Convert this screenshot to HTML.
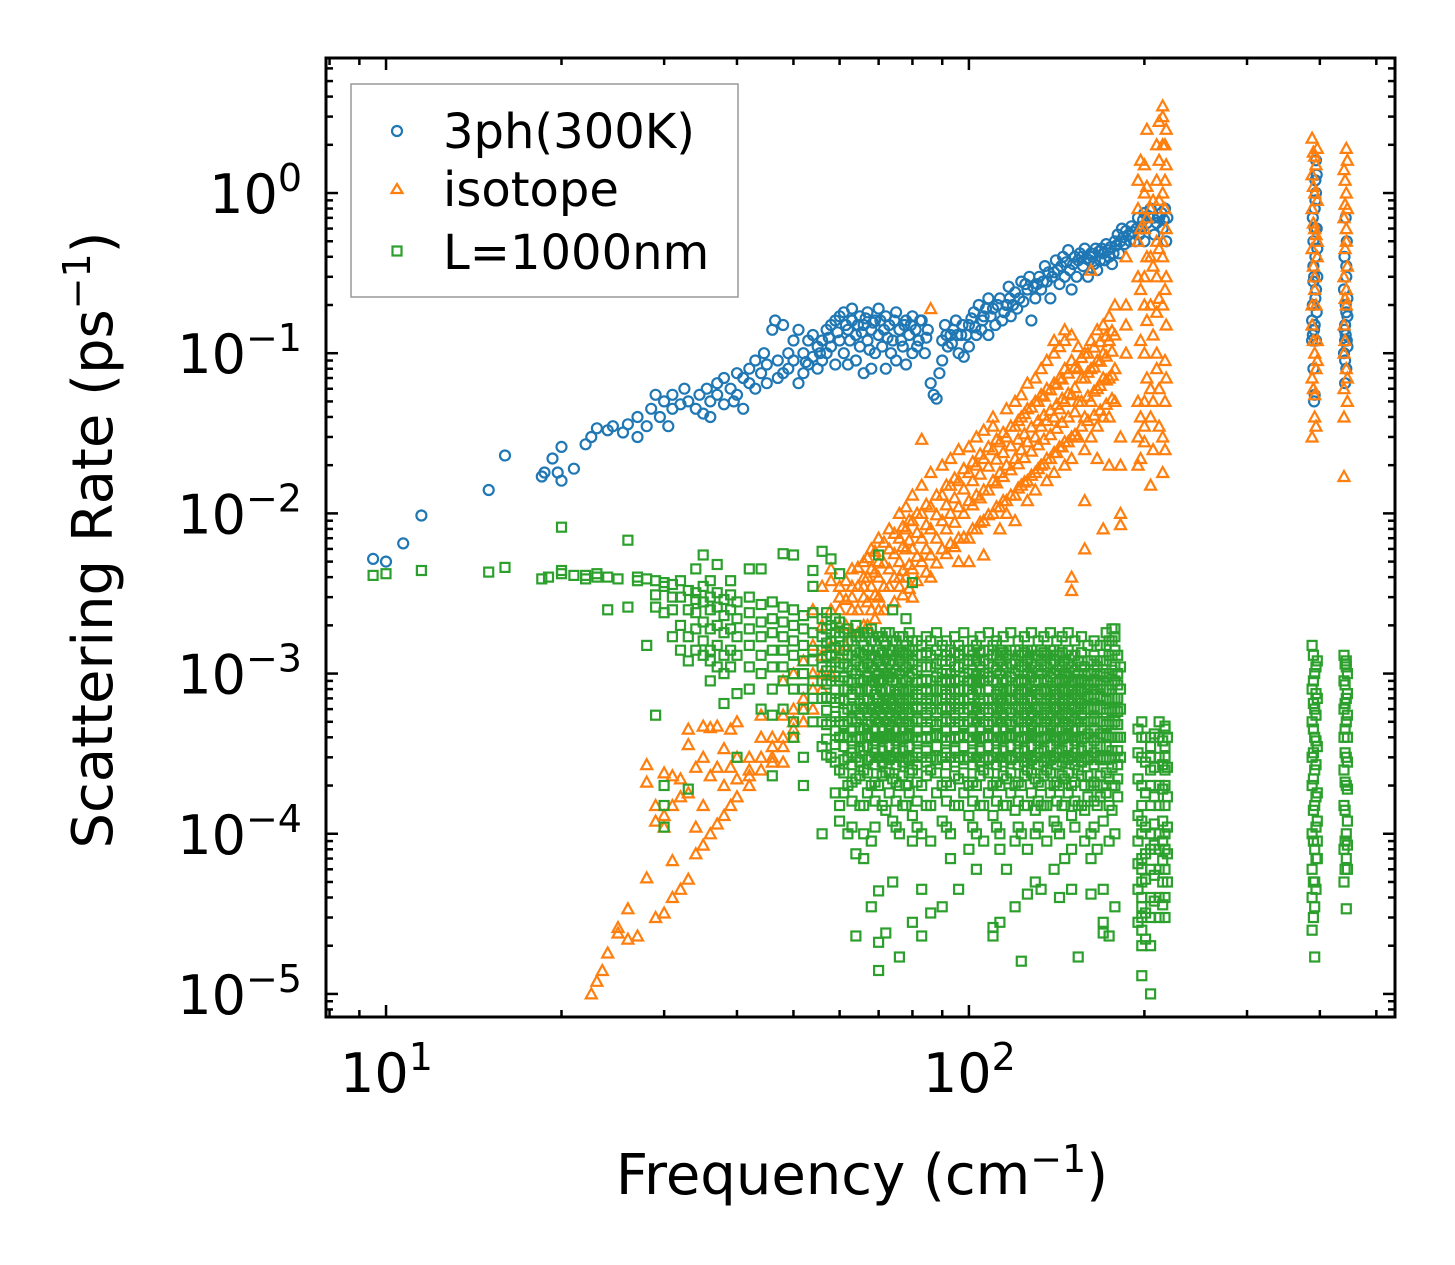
<!DOCTYPE html>
<html>
<head>
<meta charset="utf-8">
<style>
html,body{margin:0;padding:0;background:#fff;}
svg{display:block;font-family:"DejaVu Sans","Liberation Sans",sans-serif;}
</style>
</head>
<body>
<svg id="chart" width="1455" height="1265" viewBox="0 0 1455 1265" xmlns="http://www.w3.org/2000/svg">
<rect x="0" y="0" width="1455" height="1265" fill="#fff"/>
<g id="marks"></g>
<g id="axes"></g>
<g id="legend">
  <rect x="351" y="84" width="387" height="213" fill="#fff" stroke="#999" stroke-width="1.5"/>
  <circle cx="397" cy="131" r="5" fill="none" stroke="#1f77b4" stroke-width="2.2"/>
  <text x="443" y="148" font-size="48" fill="#000">3ph(300K)</text>
  <path d="M397,184 L402.5,193 L391.5,193 Z" fill="none" stroke="#ff7f0e" stroke-width="2.2"/>
  <text x="443" y="206" font-size="48" fill="#000">isotope</text>
  <rect x="392.5" y="246.5" width="9" height="9" fill="none" stroke="#2ca02c" stroke-width="2.2"/>
  <text x="443" y="269" font-size="48" fill="#000">L=1000nm</text>
</g>
<text x="862" y="1194" font-size="56" text-anchor="middle" fill="#000">Frequency (cm<tspan dy="-22" font-size="38">−1</tspan><tspan dy="22">)</tspan></text>
<text transform="translate(112,540) rotate(-90)" font-size="56" text-anchor="middle" fill="#000">Scattering Rate (ps<tspan dy="-22" font-size="38">−1</tspan><tspan dy="22">)</tspan></text>
</svg>
<script>
// ---- data (frequency in cm^-1, rate in ps^-1) ----
const xTickExps = [1, 2];
const yTickExps = [0, -1, -2, -3, -4, -5];

const ph3Points = [[9.5,.0052],[10,.005],[10.7,.0065],[11.5,.0097],[15,.014],[16,.023],[18.5,.017],[18.7,.018],[19.3,.022],[19.7,.018],[20,.016],[20,.026],[21,.019],[22,.027],[22.5,.03],[23,.034],[24,.033],[24.5,.035],[25.5,.032],[26,.036],[27,.04],[27,.03],[28,.035],[28.5,.045],[29,.055],[29.5,.04],[30,.05],[30.5,.035],[31,.045],[31,.055],[32,.048],[32.5,.06],[33,.05],[34,.045],[34.5,.055],[35,.042],[35.5,.06],[36,.05],[36,.04],[37,.065],[37,.055],[38,.07],[38,.048],[39,.06],[39.5,.05],[40,.075],[40,.055],[41,.07],[41,.045],[42,.08],[42,.065],[43,.09],[43,.06],[44,.075],[44.5,.1],[45,.065],[45,.085],[46,.14],[46.5,.16],[47,.09],[47,.07],[48,.15],[48,.075],[49,.1],[49,.08],[50,.12],[50,.09],[51,.065],[51,.14],[52,.1],[52,.075],[53,.12],[53,.085],[54,.13],[54,.095],[55,.11],[55,.08],[56,.12],[56,.09],[57,.14],[57,.1],[58,.15],[58,.11],[59,.16],[59,.085],[60,.17],[60,.12],[61,.18],[61,.1],[62,.14],[62,.085],[63,.19],[63,.16],[64,.13],[64,.09],[65,.17],[65,.11],[66,.15],[66,.075],[67,.18],[67,.12],[68,.14],[68,.08],[69,.16],[69,.1],[70,.19],[70,.13],[71,.11],[72,.17],[72,.08],[73,.15],[74,.12],[75,.18],[75,.09],[76,.14],[77,.11],[78,.16],[78,.085],[79,.13],[80,.17],[80,.1],[81,.14],[82,.12],[83,.16],[84,.1],[85,.14],[86,.065],[87,.055],[88,.052],[89,.075],[90,.12],[90,.09],[91,.15],[92,.11],[93,.13],[94,.14],[95,.16],[96,.1],[97,.13],[98,.095],[100,.15],[100,.11],[102,.18],[103,.13],[104,.2],[105,.14],[106,.17],[108,.22],[108,.13],[110,.19],[111,.15],[113,.22],[114,.16],[116,.2],[117,.26],[118,.17],[120,.24],[121,.19],[123,.28],[124,.21],[126,.25],[127,.3],[128,.16],[130,.22],[132,.3],[133,.25],[135,.35],[136,.28],[138,.22],[140,.32],[141,.38],[143,.27],[145,.4],[146,.3],[148,.44],[149,.33],[150,.25],[152,.4],[153,.3],[155,.42],[157,.35],[158,.45],[160,.3],[161,.38],[163,.4],[165,.45],[166,.33],[168,.38],[170,.42],[172,.48],[174,.4],[176,.36],[178,.5],[180,.55],[181,.42],[183,.6],[185,.48],[188,.55],[190,.62],[193,.5],[195,.7],[198,.6],[200,.75],[200,.5],[202,.65],[205,.8],[208,.55],[212,.7],[215,.6],[217,.8],[218,.5],[219,.7],
[52.5,.088],[55.5,.1],[57.5,.125],[59.5,.135],[61.5,.15],[62.5,.12],[64.5,.15],[65.5,.135],[66.5,.165],[67.5,.105],[68.5,.155],[70.5,.16],[71.5,.14],[72.5,.125],[73.5,.1],[74.5,.16],[76.5,.12],[77.5,.15],[79.5,.15],[81.5,.11],[82.5,.16],[84.5,.125],[91.5,.13],[93.5,.115],[95.5,.13],[97.5,.15],[99,.13],[101,.165],[102.5,.145],[105.5,.16],[107,.19],[109,.17],[112,.2],[115,.18],[117.5,.22],[119,.2],[122,.22],[125,.27],[129,.26],[131,.27],[134,.28],[137,.32],[139,.3],[142,.33],[144,.35],[147,.37],[151,.36],[154,.38],[156,.4],[159,.39],[162,.42],[164,.36],[167,.43],[169,.45],[171,.38],[173,.44],[175,.46],[177,.42],[179,.47],[182,.5],[184,.53],[186,.58],[189,.5],[191,.57],[194,.6],[196,.55],[199,.68],[203,.72],[207,.7],[210,.65],[214,.75],[216,.68],
[388,.12],[389,.2],[390,.5],[391,.3],[392,.8],[393,1.2],[394,1.6],[392,.15],[393,.4],[394,.25],[395,.6],[391,.14],[393,.9],[390,.35],[389,.7],[395,.18],[396,.45],[394,1.0],[392,.055],[391,.05],[390,.08],[389,.13],[393,.22],[395,1.3],[388,.16],[390,.28],[392,.6],[394,.12],[396,.3],
[440,.1],[442,.15],[443,.2],[444,.3],[445,.12],[441,.4],[443,.7],[444,.08],[442,.09],[446,.17],[440,.25],[443,.13],[445,.5],[442,.065],[444,.35],[446,.11],[441,.14],[444,.18],[446,.22],[442,.12]];

const isoFreqs = [22.5,23,23.5,24,25,26,27,28,29,30,31,32,33,34,35,36,37,38,39,40,42,44,46,48,50,52,54,56,58,60,63,66,68,70,73,76,78,80,83,86,90,93,96,100,103,106,110,113,116,120,123,126,130,133,136,140,143,146,150,154,158,162,166,170,174,178,182,186,195,200,205,210,215,218,388,392,396,440,444,
61.5,64.5,67,69,71.5,74.5,77,79,81.5,84.5,88,91.5,94.5,98,101.5,104.5,108,111.5,114.5,118,121.5,124.5,128,131.5,134.5,138,141.5,144.5,148,152,156,160,164,168,172,176,197,202,207,212,217,390,394,442,446];
const isoRates = [[1e-5],[1.2e-5],[1.4e-5],[1.8e-5],[2.4e-5,2.6e-5],[3.4e-5,2.2e-5],[2.3e-5],[2.7e-4,2.1e-4,5.3e-5],[3e-5,1.2e-4,1.5e-4],[3.2e-5,1.3e-4,1.1e-4,2.4e-4],[4e-5,2.3e-4,1.5e-4,6.8e-5],[4.5e-5,1.7e-4,2.2e-4],[5.2e-5,1.8e-4,3.6e-4,4.5e-4],[7.5e-5,2.6e-4,1.1e-4],[8.5e-5,3e-4,4.7e-4,1.5e-4],[1e-4,4.6e-4,2.3e-4],[1.15e-4,2.6e-4,4.7e-4],[1.3e-4,3.4e-4,2e-4],[1.5e-4,2.6e-4,4.5e-4],[1.7e-4,5e-4,2.2e-4,3e-4],[2e-4,2.5e-4,3e-4,2.3e-4],[2.5e-4,3e-4,4e-4,5.5e-4],[3e-4,3.5e-4,4e-4,2.8e-4],[3.5e-4,4e-4,5.5e-4,2.8e-4,9e-4],[4e-4,5e-4,6e-4,1e-3,4.5e-4],[5e-4,7e-4,1.2e-3,6e-4],[6e-4,8e-4,1.5e-3,1e-3,2.5e-3],[8e-4,1e-3,2e-3,3.5e-3,1.3e-3],[1e-3,1.5e-3,2.5e-3,3.8e-3,4.5e-3],[1.3e-3,2e-3,3e-3,2.5e-3,3.5e-3],[1.8e-3,2.5e-3,3e-3,3.5e-3,4.5e-3],[2e-3,3e-3,4e-3,5e-3,3.5e-3],[2.5e-3,3.5e-3,4.5e-3,6e-3],[3e-3,4e-3,5e-3,7e-3,2.5e-3],[3.5e-3,4.5e-3,6e-3,8e-3],[4e-3,5e-3,7e-3,1e-2,3.5e-3],[4e-3,6e-3,8e-3,1.1e-2],[4.5e-3,6e-3,9e-3,1.3e-2,3e-3],[5e-3,7e-3,1e-2,1.5e-2,2.9e-2],[5.5e-3,8e-3,1.1e-2,1.8e-2,4e-3,0.19],[6e-3,9e-3,1.3e-2,2e-2],[6.5e-3,1e-2,1.5e-2,2.2e-2],[7e-3,1.1e-2,1.6e-2,2.5e-2,5e-3],[7e-3,1.2e-2,1.8e-2,2.6e-2,5e-3],[8e-3,1.3e-2,2e-2,3e-2],[9e-3,1.4e-2,2.2e-2,3.3e-2,5.5e-3],[1e-2,1.6e-2,2.5e-2,4e-2,3.5e-2],[1.1e-2,1.8e-2,2.8e-2,8e-3],[1.2e-2,2e-2,3e-2,4.5e-2,1e-2],[1.3e-2,2.2e-2,3.5e-2,5e-2,9e-3],[1.5e-2,2.5e-2,4e-2,5.5e-2],[1.6e-2,2.8e-2,4.5e-2,6.5e-2,1.2e-2],[1.8e-2,3e-2,5e-2,7e-2,1.4e-2],[2e-2,3.5e-2,5.5e-2,8e-2],[2.2e-2,3.8e-2,6e-2,9e-2,1.6e-2],[2.4e-2,4e-2,6.5e-2,1e-1,1.8e-2,1.2e-1],[2.6e-2,4.5e-2,7e-2,1.1e-1],[2.8e-2,5e-2,8e-2,1.2e-1,2e-2,1.4e-1],[3e-2,5.5e-2,9e-2,1.3e-1,4e-3,3.3e-3,2.2e-2],[3e-2,5e-2,8e-2,1.1e-1],[2.5e-2,4e-2,7e-2,1e-1,6e-3,1.2e-2],[3e-2,5e-2,8e-2,1.2e-1,0.33],[3.5e-2,6e-2,9e-2,1.4e-1,2.2e-2],[4e-2,7e-2,1e-1,1.5e-1,8e-3],[4e-2,7e-2,1.2e-1,1.7e-1,2e-2],[5e-2,8e-2,1.3e-1,2e-1],[2e-2,1e-2,8.5e-3,3e-2],[0.4,0.15,0.2,0.1],[0.5,0.3,0.8,1.2,0.05,0.03,0.02],[0.3,0.6,1,1.5,0.1,0.2,0.05,0.035,0.028],[0.4,0.8,0.2,0.06,0.04,0.015],[0.3,0.5,1.2,2,0.1,0.18,0.08],[0.5,1,2,3,3.5,0.2,0.4,0.03,0.018],[0.6,1.5,2.5,0.3,0.15,0.07],[0.03,0.07,0.2,0.45,0.8,1.3,2.2,0.15],[0.04,0.1,0.3,0.6,1,1.7,0.25,0.055],[0.09,0.4,0.9,1.9,0.12,0.5],[0.017,0.1,0.3,0.7,1.4,0.15,0.06,0.04],[0.2,0.5,1,1.9,0.25,0.6,0.08],
[.0015,.002,.0029,.0038],[.0018,.0025,.0035,.0046],[.002,.0028,.004,.0053],[.0022,.0031,.0043,.0058],[.0025,.0035,.0049,.0066],[.0028,.004,.0056,.0075],[.0031,.0044,.0062,.0083],[.0034,.0048,.0068,.0091],[.0038,.0054,.0076,.01],[.0043,.006,.0085,.0114],[.0049,.007,.0098,.013],[.0056,.008,.0113,.015],[.0062,.0088,.0125,.0166],[.0071,.01,.0142,.019],[.008,.0113,.016,.021],[.0088,.0125,.0176,.0235],[.0098,.014,.0197,.026],[.011,.0155,.0218,.029],[.012,.017,.024,.032],[.013,.0187,.0264,.035],[.0144,.0204,.029,.038],[.0157,.0223,.0314,.042],[.0173,.0245,.0346,.046],[.019,.0268,.0378,.05],[.0204,.029,.041,.054],[.022,.031,.044,.059],[.024,.034,.048,.064],[.026,.037,.052,.069],[.028,.04,.056,.075],[.031,.043,.061,.082],[.035,.05,.07,.094],[.038,.054,.076,.1],[.041,.058,.082,.109],[.044,.063,.089,.118],[.048,.068,.096,.128],[.052,.073,.103,.138],
[0.04,0.12,0.25,0.6,1.6,0.022],[0.07,0.16,0.4,0.7,1.1,2.5],[0.05,0.13,0.35,0.9,0.025],[0.06,0.22,0.45,0.9,1.6,2.8,0.035],[0.09,0.25,0.8,1.2,2,0.05,0.025],[0.06,0.12,0.35,0.65,1.1,1.8],[0.035,0.08,0.2,0.55,1.5],[0.12,0.22,0.45,0.85,1.2],[0.07,0.35,0.8,1.6,0.05]];

const bndFreqs = [9.5,10,11.5,15,16,18.5,19,20,21,22,23,24,25,26,27,28,29,30,31,32,33,34,35,36,37,38,39,40,42,44,46,48,50,52,54,56,58,60,62,64,66,68,70,72,74,76,78,80,83,86,90,93,96,100,103,106,110,113,116,120,123,126,130,133,136,140,143,146,150,154,158,162,166,170,174,178,182,198,205,212,217,388,392,396,440,444,
57,59,61,63,65,67,69,71,73,75,77,79,81.5,84.5,88,91.5,94.5,98,101.5,104.5,108,111.5,114.5,118,121.5,124.5,128,131.5,134.5,138,141.5,144.5,148,152,156,160,164,168,172,176,180,195,201,208,215,219,390,394,442,446];
const bndRates = [[.0041],[.0042],[.0044],[.0043],[.0046],[.0039],[.0040],[.0042,.0044,.0082],[.0041],[.0039,.0041],[.0040,.0042],[.0040,.0025],[.0039],[.0068,.0026],[.0040,.0038],[.0039,.0015],[.0038,.0031,.0026,.00055],[.0035,.0024,.0037,.00015,.0002,.00011],[.0036,.0017,.0030,.0025],[.0030,.0038,.0020,.0014],[.0033,.0025,.0017,.0012,.00019],[.0032,.0029,.0024,.0019,.0014,.0045],[.0035,.0028,.0021,.0016,.0013,.0055],[.0030,.0025,.0019,.0014,.0012,.0009,.0038],[.0032,.0026,.0020,.0015,.0011,.0048],[.0029,.0023,.0018,.0013,.001,.00065],[.0031,.0025,.0019,.0014,.0011,.0038],[.0028,.0022,.0017,.0013,.00075,.0003],[.0030,.0024,.0019,.0015,.0011,.0008,.0045],[.0027,.0021,.0017,.0013,.001,.0006,.0045],[.0028,.0022,.0018,.0014,.0011,.0008,.00055,.00023],[.0026,.0021,.0017,.0014,.0011,.0009,.0006,.0056],[.0025,.0020,.0016,.0013,.001,.0008,.0005,.0055,.0004],[.0023,.0019,.0015,.0012,.001,.0008,.0006,.0003,.0002],[.0024,.0018,.0014,.0012,.0009,.0007,.0005,.0035,.0044],[.0022,.0017,.0014,.0011,.0009,.0007,.0005,.00035,.0001,.0058],[.002,.0016,.0013,.0011,.0009,.0007,.0005,.0003,.0052],[.0021,.0017,.0014,.0011,.0009,.0007,.0005,.0004,.00025,.00015,.00012,.0042],[.0019,.0016,.0013,.0011,.0009,.0008,.0006,.0005,.0004,.0003,.0002,.0001],[.002,.0017,.0014,.0012,.001,.0008,.0006,.0005,.0004,.0003,.00022,.000075,.000023],[.0018,.0015,.0013,.0011,.0009,.0007,.0006,.00045,.00035,.00025,.00015,.00007,.0001],[.0019,.0016,.0013,.0011,.0009,.0008,.0006,.0005,.0004,.0003,.0002,.000035,.00009],[.0017,.0014,.0012,.001,.0009,.0007,.0006,.0005,.0004,.0003,.0002,.000021,.0055,.000014,.000044],[.0018,.0015,.0012,.001,.0008,.0007,.0006,.0005,.0004,.0003,.00024,.00014,.000024],[.0016,.0014,.0012,.001,.0009,.0007,.0006,.0005,.0004,.0003,.00022,.00012,.00005,.0025],[.0017,.0014,.0012,.001,.0008,.0007,.0006,.0005,.0004,.0003,.0002,.0001,.000017],[.0015,.0013,.0011,.0009,.0008,.0007,.0006,.0005,.0004,.0003,.0002,.00015,.0022],[.0016,.0014,.0012,.001,.0008,.0007,.0006,.0005,.0004,.0003,.00025,.00013,.00009,.000028,.0037],[.0015,.0013,.0011,.0009,.0008,.0007,.0006,.0005,.0004,.0003,.0002,.0001,.000045,.000023],[.0016,.0013,.0011,.0009,.0008,.0007,.0006,.0005,.0004,.0003,.00025,.00015,.00009,.000032],[.0015,.0012,.001,.0009,.0008,.0007,.0006,.0005,.0004,.0003,.0002,.00012,.000035],[.0014,.0012,.001,.0009,.0008,.0007,.0006,.0005,.0004,.0003,.0002,.0001,.00007],[.0015,.0013,.0011,.0009,.0008,.0007,.0006,.0005,.0004,.0003,.00022,.00015,.000045],[.0014,.0012,.001,.0009,.0008,.0007,.0006,.0005,.0004,.0003,.0002,.00013,.00008],[.0015,.0012,.001,.0009,.0008,.0006,.0005,.0004,.0003,.0002,.0001,.00006],[.0014,.0012,.001,.0009,.0007,.0006,.0005,.0004,.0003,.00025,.00015,.00009],[.0015,.0013,.0011,.0009,.0007,.0006,.0005,.0004,.0003,.0002,.00013,.000026,.000023],[.0014,.0012,.001,.0008,.0007,.0006,.0005,.0004,.0003,.0002,.0001,.00008,.000028],[.0013,.0011,.0009,.0008,.0007,.0006,.0005,.0004,.0003,.00022,.00015,.00006],[.0014,.0012,.001,.0008,.0007,.0006,.0005,.0004,.0003,.0002,.00014,.00009,.000035],[.0013,.0011,.0009,.0008,.0007,.0006,.0005,.0004,.0003,.0002,.0001,.000016],[.0014,.0012,.001,.0008,.0007,.0006,.0005,.0004,.0003,.00025,.00015,.00008,.000042],[.0013,.0011,.0009,.0008,.0006,.0005,.0004,.0003,.00022,.00014,.0001,.00005],[.0014,.0012,.001,.0008,.0007,.0006,.0005,.0004,.0003,.0002,.00015,.000045],[.0013,.0011,.0009,.0008,.0007,.0006,.0005,.0004,.0003,.00025,.00015,.00009],[.0014,.0012,.001,.0008,.0007,.0006,.0005,.0004,.0003,.0002,.00012,.00006],[.0013,.0011,.0009,.0008,.0007,.0006,.0005,.0004,.0003,.0002,.0001,.00004],[.0012,.001,.0009,.0008,.0007,.0006,.0005,.0004,.0003,.00022,.00015,.00007],[.0013,.0011,.0009,.0008,.0007,.0006,.0005,.0004,.0003,.0002,.00013,.00008,.000045],[.0012,.001,.0009,.0008,.0007,.0006,.0005,.0004,.0003,.00025,.00015,.000017],[.0011,.0009,.0008,.0007,.0006,.0005,.0004,.0003,.0002,.00014,.00009],[.0012,.001,.0009,.0008,.0007,.0006,.0005,.0004,.0003,.0002,.0001,.00007,.000042],[.0011,.0009,.0008,.0007,.0006,.0005,.0004,.0003,.0002,.00015,.00008],[.0012,.001,.0009,.0008,.0007,.0006,.0005,.0004,.0003,.0002,.00012,.000045,.000028,.000024],[.0016,.0013,.001,.0008,.0007,.0006,.0005,.0004,.0003,.00022,.00015,.00009,.000023],[.0019,.0017,.0014,.0011,.0009,.0007,.0006,.0005,.0004,.0003,.0002,.0001,.000035],[.0011,.0008,.0006,.0004,.0003],[.0005,.0004,.0003,.0002,.00015,.0001,.00007,.00005,.000035,.000025,.000013,.00012,.00006,.00004,.00003,.00002],[.0004,.0003,.0002,.00015,.0001,.00008,.00006,.00004,.00003,.00002,.00001,.00025,.00035],[.0005,.0004,.0003,.0002,.00015,.0001,.00008,.00006,.00004,.00003],[.00045,.00035,.0003,.00025,.0002,.00015,.0001,.00008,.00006,.00004,.00003,.00047],[.0015,.0008,.0005,.0003,.0002,.0001,.00006,.00004,.000025],[.001,.0006,.0004,.00025,.00015,.00008,.00005,.000035,.000017],[.0012,.0007,.00035,.00018,.00012,.00009,.00007],[.0013,.0009,.0006,.0004,.00025,.00015,.00008,.00005],[.0011,.0007,.0005,.0003,.0002,.0001,.00007,.000034,.0012],
[.0024,.0019,.00155,.00128,.00104,.00086,.00071,.00059,.00048,.00039,.00031],
[.0022,.0018,.00145,.00118,.00096,.00079,.00066,.00054,.00044,.00036,.00028,.00018],
[.0018,.0014,.00115,.00095,.0008,.00068,.00057,.00048,.00041,.00035,.00029,.00024,.00018],
[.0016,.0013,.00105,.00088,.00074,.00062,.00052,.00044,.00038,.00032,.00027,.00021,.00016,.00011],
[.0017,.00135,.0011,.00092,.00077,.00065,.00055,.00046,.00039,.00033,.00028,.00023,.00015],
[.0018,.0014,.00115,.00095,.0008,.00068,.00057,.00048,.00041,.00035,.00029,.00024,.00018],
[.0016,.0013,.00105,.00088,.00074,.00062,.00052,.00044,.00038,.00032,.00027,.00021,.00016,.00011],
[.0017,.00135,.0011,.00092,.00077,.00065,.00055,.00046,.00039,.00033,.00028,.00023,.00015],
[.0018,.0014,.00115,.00095,.0008,.00068,.00057,.00048,.00041,.00035,.00029,.00024,.00018],
[.0016,.0013,.00105,.00088,.00074,.00062,.00052,.00044,.00038,.00032,.00027,.00021,.00016,.00011],
[.0017,.00135,.0011,.00092,.00077,.00065,.00055,.00046,.00039,.00033,.00028,.00023,.00015],
[.0018,.0014,.00115,.00095,.0008,.00068,.00057,.00048,.00041,.00035,.00029,.00024,.00018],
[.0016,.0013,.00105,.00088,.00074,.00062,.00052,.00044,.00038,.00032,.00027,.00021,.00016,.00011],
[.0017,.00135,.0011,.00092,.00077,.00065,.00055,.00046,.00039,.00033,.00028,.00023,.00015],
[.0018,.0014,.00115,.00095,.0008,.00068,.00057,.00048,.00041,.00035,.00029,.00024,.00018],
[.0016,.0013,.00105,.00088,.00074,.00062,.00052,.00044,.00038,.00032,.00027,.00021,.00016,.00011],
[.0017,.00135,.0011,.00092,.00077,.00065,.00055,.00046,.00039,.00033,.00028,.00023,.00015],
[.0018,.0014,.00115,.00095,.0008,.00068,.00057,.00048,.00041,.00035,.00029,.00024,.00018],
[.0016,.0013,.00105,.00088,.00074,.00062,.00052,.00044,.00038,.00032,.00027,.00021,.00016,.00011],
[.0017,.00135,.0011,.00092,.00077,.00065,.00055,.00046,.00039,.00033,.00028,.00023,.00015],
[.0018,.0014,.00115,.00095,.0008,.00068,.00057,.00048,.00041,.00035,.00029,.00024,.00018],
[.0016,.0013,.00105,.00088,.00074,.00062,.00052,.00044,.00038,.00032,.00027,.00021,.00016,.00011],
[.0017,.00135,.0011,.00092,.00077,.00065,.00055,.00046,.00039,.00033,.00028,.00023,.00015],
[.0018,.0014,.00115,.00095,.0008,.00068,.00057,.00048,.00041,.00035,.00029,.00024,.00018],
[.0016,.0013,.00105,.00088,.00074,.00062,.00052,.00044,.00038,.00032,.00027,.00021,.00016,.00011],
[.0017,.00135,.0011,.00092,.00077,.00065,.00055,.00046,.00039,.00033,.00028,.00023,.00015],
[.0018,.0014,.00115,.00095,.0008,.00068,.00057,.00048,.00041,.00035,.00029,.00024,.00018],
[.0016,.0013,.00105,.00088,.00074,.00062,.00052,.00044,.00038,.00032,.00027,.00021,.00016,.00011],
[.0017,.00135,.0011,.00092,.00077,.00065,.00055,.00046,.00039,.00033,.00028,.00023,.00015],
[.0018,.0014,.00115,.00095,.0008,.00068,.00057,.00048,.00041,.00035,.00029,.00024,.00018],
[.0016,.0013,.00105,.00088,.00074,.00062,.00052,.00044,.00038,.00032,.00027,.00021,.00016,.00011],
[.0017,.00135,.0011,.00092,.00077,.00065,.00055,.00046,.00039,.00033,.00028,.00023,.00015],
[.0018,.0014,.00115,.00095,.0008,.00068,.00057,.00048,.00041,.00035,.00029,.00024,.00018],
[.0016,.0013,.00105,.00088,.00074,.00062,.00052,.00044,.00038,.00032,.00027,.00021,.00016,.00011],
[.0017,.00135,.0011,.00092,.00077,.00065,.00055,.00046,.00039,.00033,.00028,.00023,.00015],
[.0015,.0012,.001,.00085,.00072,.0006,.0005,.00042,.00035,.00029,.00023,.00017],
[.0016,.0013,.00105,.00088,.00074,.00062,.00052,.00044,.00038,.00032,.00027,.00021,.00016,.00011],
[.0015,.0012,.001,.00085,.00072,.0006,.0005,.00042,.00035,.00029,.00023,.00017],
[.0018,.0015,.0012,.00095,.0008,.00068,.00057,.00048,.00041,.00035,.00029,.00024,.00018],
[.0019,.0016,.0013,.00105,.00085,.0007,.00058,.00048,.0004,.00033,.00026,.0002,.00014],
[.0013,.001,.00085,.0007,.00058,.00048,.0004,.00033,.00027,.00022,.00017],
[.00045,.00032,.00022,.00013,.00009,.000065,.000045,.000028],
[.0004,.00028,.00018,.00011,.000075,.000052,.000032,.000022],
[.00042,.00026,.00017,.000115,.000085,.000055,.000038],
[.00038,.00027,.00019,.00012,.00009,.000068,.00005,.000036],
[.0004,.00026,.00017,.00011,.000075,.00005],
[.0013,.0009,.00065,.00045,.00032,.00022,.00014,.00009,.00005,.00003],
[.0011,.00075,.00055,.00038,.00027,.00017,.00011,.00007,.000045],
[.00115,.00085,.00065,.00045,.00032,.00021,.00014,.00009,.00006],
[.001,.00075,.00055,.0004,.00028,.00019,.00012,.000085,.00006]];

// ---- axis functions ----
const PL = 326, PR = 1395, PT = 58, PB = 1017;
const LX0 = 0.897, LX1 = 2.731, LY0 = -5.144, LY1 = 0.843;
function xs(f){ return PL + (Math.log10(f) - LX0) / (LX1 - LX0) * (PR - PL); }
function ys(v){ return PB - (Math.log10(v) - LY0) / (LY1 - LY0) * (PB - PT); }

const NS = 'http://www.w3.org/2000/svg';
const marks = document.getElementById('marks');
const axes = document.getElementById('axes');

const clip = document.createElementNS(NS, 'clipPath');
clip.setAttribute('id', 'pclip');
const cr = document.createElementNS(NS, 'rect');
cr.setAttribute('x', PL); cr.setAttribute('y', PT);
cr.setAttribute('width', PR - PL); cr.setAttribute('height', PB - PT);
clip.appendChild(cr);
document.getElementById('chart').appendChild(clip);
marks.setAttribute('clip-path', 'url(#pclip)');

const gBlue = document.createElementNS(NS, 'g');


const gOr = document.createElementNS(NS, 'g');


const gGr = document.createElementNS(NS, 'g');


marks.appendChild(gBlue); marks.appendChild(gOr); marks.appendChild(gGr);

ph3Points.forEach(p => {
  const c = document.createElementNS(NS, 'circle');
  c.setAttribute('cx', xs(p[0]).toFixed(1));
  c.setAttribute('cy', ys(p[1]).toFixed(1));
  c.setAttribute('r', 5);
  c.setAttribute('fill', 'none');
  c.setAttribute('stroke', '#1f77b4');
  c.setAttribute('stroke-width', 2.2);
  
  
  gBlue.appendChild(c);
});

isoFreqs.forEach((f, i) => {
  isoRates[i].forEach(v => {
    const x = xs(f), y = ys(v);
    const t = document.createElementNS(NS, 'path');
    t.setAttribute('d', `M${x.toFixed(1)},${(y-5.5).toFixed(1)} L${(x+5.5).toFixed(1)},${(y+4.5).toFixed(1)} L${(x-5.5).toFixed(1)},${(y+4.5).toFixed(1)} Z`);
    t.setAttribute('fill', 'none');
    t.setAttribute('stroke', '#ff7f0e');
    t.setAttribute('stroke-width', 2.2);
    
    
    gOr.appendChild(t);
  });
});

bndFreqs.forEach((f, i) => {
  bndRates[i].forEach(v => {
    const x = xs(f), y = ys(v);
    const s = document.createElementNS(NS, 'rect');
    s.setAttribute('x', (x - 4.5).toFixed(1));
    s.setAttribute('y', (y - 4.5).toFixed(1));
    s.setAttribute('width', 9);
    s.setAttribute('height', 9);
    s.setAttribute('fill', 'none');
    s.setAttribute('stroke', '#2ca02c');
    s.setAttribute('stroke-width', 2.2);
    
    
    gGr.appendChild(s);
  });
});

// ---- axes frame and ticks ----
function line(x1, y1, x2, y2, w, name){
  const l = document.createElementNS(NS, 'line');
  l.setAttribute('x1', x1); l.setAttribute('y1', y1);
  l.setAttribute('x2', x2); l.setAttribute('y2', y2);
  l.setAttribute('stroke', '#000');
  l.setAttribute('stroke-width', w);
  
  
  axes.appendChild(l);
}
const frame = document.createElementNS(NS, 'rect');
frame.setAttribute('x', PL); frame.setAttribute('y', PT);
frame.setAttribute('width', PR - PL); frame.setAttribute('height', PB - PT);
frame.setAttribute('fill', 'none'); frame.setAttribute('stroke', '#000'); frame.setAttribute('stroke-width', 3);


axes.appendChild(frame);

for (let e = 0; e <= 2; e++) {
  for (let m = 1; m <= 9; m++) {
    const f = m * Math.pow(10, e);
    const x = xs(f);
    if (x < PL + 1 || x > PR - 1) continue;
    const len = m === 1 ? 12 : 7;
    line(x, PB, x, PB - len, 2.5, 'x-tick');
    line(x, PT, x, PT + len, 2.5, 'x-tick');
  }
}
for (let e = -6; e <= 0; e++) {
  for (let m = 1; m <= 9; m++) {
    const v = m * Math.pow(10, e);
    const y = ys(v);
    if (y < PT + 1 || y > PB - 1) continue;
    const len = m === 1 ? 12 : 7;
    line(PL, y, PL + len, y, 2.5, 'y-tick');
    line(PR, y, PR - len, y, 2.5, 'y-tick');
  }
}
xTickExps.forEach(e => {
  const t = document.createElementNS(NS, 'text');
  t.setAttribute('x', xs(Math.pow(10, e)) - 46);
  t.setAttribute('y', 1092);
  t.setAttribute('font-size', 54);
  
  
  t.innerHTML = '10<tspan dy="-22" font-size="38">' + e + '</tspan>';
  axes.appendChild(t);
});
yTickExps.forEach(e => {
  const t = document.createElementNS(NS, 'text');
  t.setAttribute('x', 302);
  t.setAttribute('y', ys(Math.pow(10, e)) + 20);
  t.setAttribute('font-size', 54);
  t.setAttribute('text-anchor', 'end');
  
  
  t.innerHTML = '10<tspan dy="-22" font-size="38">' + (e < 0 ? '−' + (-e) : e) + '</tspan>';
  axes.appendChild(t);
});
</script>
</body>
</html>
